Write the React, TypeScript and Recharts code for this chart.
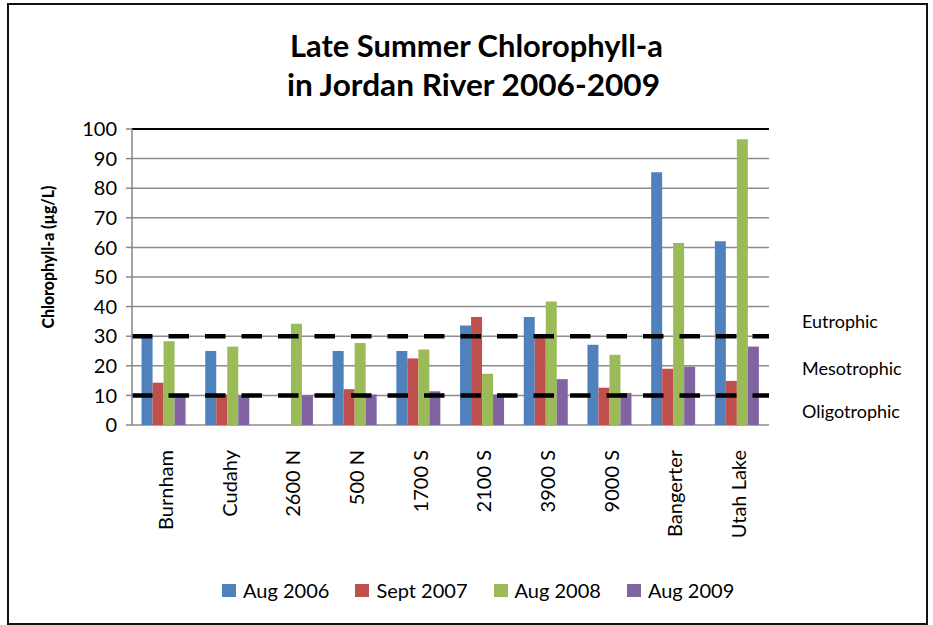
import React from 'react';
import { BarChart, Bar, XAxis, YAxis, CartesianGrid, ReferenceLine } from 'recharts';

const sites = ['Burnham', 'Cudahy', '2600 N', '500 N', '1700 S', '2100 S', '3900 S', '9000 S', 'Bangerter', 'Utah Lake'];
const aug2006 = [29.5, 25, null, 25, 25, 33.6, 36.5, 27.1, 85.4, 62.1];
const sept2007 = [14.3, 10.3, null, 12.1, 22.5, 36.5, 30, 12.6, 19, 14.9];
const aug2008 = [28.3, 26.5, 34.2, 27.7, 25.5, 17.3, 41.7, 23.7, 61.5, 96.5];
const aug2009 = [10, 10, 10, 10.3, 11.4, 10.3, 15.5, 10.8, 19.7, 26.5];
const yTicks = [0, 10, 20, 30, 40, 50, 60, 70, 80, 90, 100];
const thresholds = [30, 10];
const trophicLabels = ['Eutrophic', 'Mesotrophic', 'Oligotrophic'];
const titleLines = ['Late Summer Chlorophyll-a', 'in Jordan River 2006-2009'];
const yLabel = 'Chlorophyll-a (\u00b5g/L)';

const series = [
  { key: 'a2006', name: 'Aug 2006', values: aug2006, color: '#4F81BD' },
  { key: 's2007', name: 'Sept 2007', values: sept2007, color: '#C0504D' },
  { key: 'a2008', name: 'Aug 2008', values: aug2008, color: '#9BBB59' },
  { key: 'a2009', name: 'Aug 2009', values: aug2009, color: '#8064A2' },
];

const data = sites.map((site, i) => {
  const row: any = { site };
  series.forEach((s) => { row[s.key] = s.values[i]; });
  return row;
});

const boundaryTicks = sites.map((_, i) => i).concat([sites.length]);

const FONT = 'Lato, "DejaVu Sans", sans-serif';

const SiteTick = (props: any) => {
  const { x, y, payload } = props;
  return (
    <text
      transform={`translate(${x + 9},${y + 25}) rotate(-90)`}
      textAnchor="end"
      fontSize={20}
      fontFamily={FONT}
      fill="#000"
    >
      {payload.value}
    </text>
  );
};

const EmptyTick = () => <g />;

export default function App() {
  return (
    <div style={{ position: 'absolute', left: 0, top: 0, width: 933, height: 625, background: '#fff', fontFamily: FONT }}>
      <div style={{ position: 'absolute', left: 7, top: 3, width: 917, height: 618, border: '2px solid #111' }} />
      <div style={{ position: 'absolute', left: 0, top: 0 }}>
        <BarChart
          width={933}
          height={625}
          data={data}
          margin={{ top: 129, right: 164, bottom: 80, left: 72 }}
          barCategoryGap="15%"
          barGap={0}
        >
          <CartesianGrid vertical={false} stroke="#8c8c8c" strokeWidth={1.5} />
          <XAxis
            xAxisId="bounds"
            type="number"
            domain={[0, sites.length]}
            ticks={boundaryTicks}
            tick={EmptyTick}
            tickSize={6}
            height={0}
            axisLine={{ stroke: '#868686', strokeWidth: 1.5 }}
            tickLine={{ stroke: '#868686', strokeWidth: 1.5 }}
            allowDataOverflow
          />
          <XAxis
            dataKey="site"
            height={120}
            interval={0}
            tick={<SiteTick />}
            tickLine={false}
            axisLine={false}
            tickSize={0}
            tickMargin={0}
          />
          <YAxis
            width={60}
            domain={[0, 100]}
            ticks={yTicks}
            interval={0}
            tick={{ fontSize: 20, fill: '#000', fontFamily: FONT }}
            tickSize={6}
            tickMargin={9}
            axisLine={{ stroke: '#868686', strokeWidth: 1.5 }}
            tickLine={{ stroke: '#868686', strokeWidth: 1.5 }}
          />
          <YAxis
            yAxisId="frame"
            orientation="right"
            width={0}
            tick={false}
            tickLine={false}
            axisLine={{ stroke: '#000', strokeWidth: 2 }}
          />
          {series.map((s) => (
            <Bar key={s.key} dataKey={s.key} name={s.name} fill={s.color} isAnimationActive={false} />
          ))}
          <ReferenceLine y={100} stroke="#000" strokeWidth={2} />
          {thresholds.map((t) => (
            <ReferenceLine key={t} y={t} stroke="#000" strokeWidth={4.5} strokeDasharray="20.5 16" />
          ))}
        </BarChart>
      </div>
      <svg width={933} height={625} style={{ position: 'absolute', left: 0, top: 0, pointerEvents: 'none' }}>
        <text x={290} y={57} fontSize={31} fontWeight="bold" fontFamily={FONT} textLength={373} lengthAdjust="spacingAndGlyphs">{titleLines[0]}</text>
        <text x={287} y={96} fontSize={31} fontWeight="bold" fontFamily={FONT} textLength={373} lengthAdjust="spacingAndGlyphs">{titleLines[1]}</text>
        <text transform="translate(54,257) rotate(-90)" textAnchor="middle" fontSize={17.5} fontWeight="900" fontFamily={FONT} textLength={143} lengthAdjust="spacingAndGlyphs">{yLabel}</text>
        <text x={802} y={328} fontSize={18} fontFamily={FONT}>{trophicLabels[0]}</text>
        <text x={802} y={375} fontSize={18} fontFamily={FONT}>{trophicLabels[1]}</text>
        <text x={802} y={418} fontSize={18} fontFamily={FONT}>{trophicLabels[2]}</text>
      </svg>
      <div style={{ position: 'absolute', left: 222, top: 578, display: 'flex', alignItems: 'center', fontSize: 20, fontFamily: FONT, lineHeight: '24px' }}>
        {series.map((s) => (
          <div key={s.key} style={{ display: 'flex', alignItems: 'center', marginRight: 26 }}>
            <span style={{ display: 'inline-block', width: 14, height: 13, background: s.color, marginRight: 7 }} />
            <span>{s.name}</span>
          </div>
        ))}
      </div>
    </div>
  );
}
